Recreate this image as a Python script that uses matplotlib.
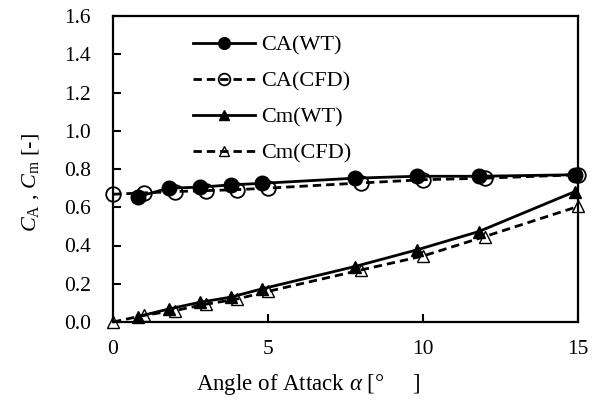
import matplotlib
matplotlib.use("Agg")
import matplotlib.pyplot as plt

plt.rcParams['font.family'] = ['Liberation Serif', 'DejaVu Serif']
plt.rcParams['mathtext.fontset'] = 'custom'
plt.rcParams['mathtext.rm'] = 'Liberation Serif'
plt.rcParams['mathtext.it'] = 'Liberation Serif:italic'

# Data
aoa_wt = [0.8, 1.8, 2.8, 3.8, 4.8, 7.8, 9.8, 11.8, 14.9]
ca_wt = [0.655, 0.700, 0.705, 0.717, 0.725, 0.752, 0.762, 0.762, 0.770]
cm_wt = [0.028, 0.068, 0.103, 0.130, 0.173, 0.290, 0.377, 0.473, 0.682]

aoa_cfd = [0, 1, 2, 3, 4, 5, 8, 10, 12, 15]
ca_cfd = [0.668, 0.675, 0.682, 0.687, 0.692, 0.700, 0.727, 0.744, 0.752, 0.770]
cm_cfd = [0.000, 0.035, 0.060, 0.093, 0.120, 0.160, 0.272, 0.345, 0.447, 0.604]

x_ticks = [0, 5, 10, 15]
y_ticks = [0.0, 0.2, 0.4, 0.6, 0.8, 1.0, 1.2, 1.4, 1.6]

fig = plt.figure(figsize=(5.94, 4.03), dpi=100)
ax = fig.add_axes([113/594, 1 - 322/403, (578-113)/594, (322-16)/403])

ms_c = 10.5
ms_t = 9.0
lw = 2.0
dash = (3.0, 1.8)

ax.plot(aoa_wt, ca_wt, '-', color='black', lw=lw, marker='o', ms=ms_c,
        mfc='black', mec='black', clip_on=False, zorder=4, label='CA(WT)')
ax.plot(aoa_cfd, ca_cfd, '--', color='black', lw=lw, dashes=dash, marker='o', ms=ms_c,
        mfc='none', mec='black', mew=1.3, clip_on=False, zorder=3, label='CA(CFD)')
ax.plot(aoa_wt, cm_wt, '-', color='black', lw=lw, marker='^', ms=ms_t,
        mfc='black', mec='black', clip_on=False, zorder=4, label='Cm(WT)')
ax.plot(aoa_cfd, cm_cfd, '--', color='black', lw=lw, dashes=dash, marker='^', ms=ms_t,
        mfc='none', mec='black', mew=1.0, clip_on=False, zorder=3, label='Cm(CFD)')

ax.set_xlim(0, 15)
ax.set_ylim(0, 1.6)
ax.set_xticks(x_ticks)
ax.set_yticks(y_ticks)
ax.set_xticklabels([str(t) for t in x_ticks])
ax.set_yticklabels([f"{t:.1f}" for t in y_ticks])
ax.tick_params(direction='in', length=6, width=1.5, labelsize=15.5, colors='black')
ax.tick_params(axis='y', pad=16)
ax.tick_params(axis='x', pad=13)
for s in ax.spines.values():
    s.set_linewidth(1.6)
    s.set_color('black')

ax.set_xlabel(r'Angle of Attack $\alpha$ [°     ]', fontsize=16.5)
ax.set_ylabel(r'$C_{\rm A}$ , $C_{\rm m}$ [-]', fontsize=16)
ax.xaxis.set_label_coords(0.42, -0.163)
ax.yaxis.set_label_coords(-0.155, 0.457)

ax.legend(loc='upper left', bbox_to_anchor=(0.171, 0.938), frameon=False,
          fontsize=16, handlelength=2.8, handletextpad=0.28, labelspacing=0.7,
          borderpad=0, borderaxespad=0, markerscale=0.8)

fig.savefig('out.png', dpi=100)
